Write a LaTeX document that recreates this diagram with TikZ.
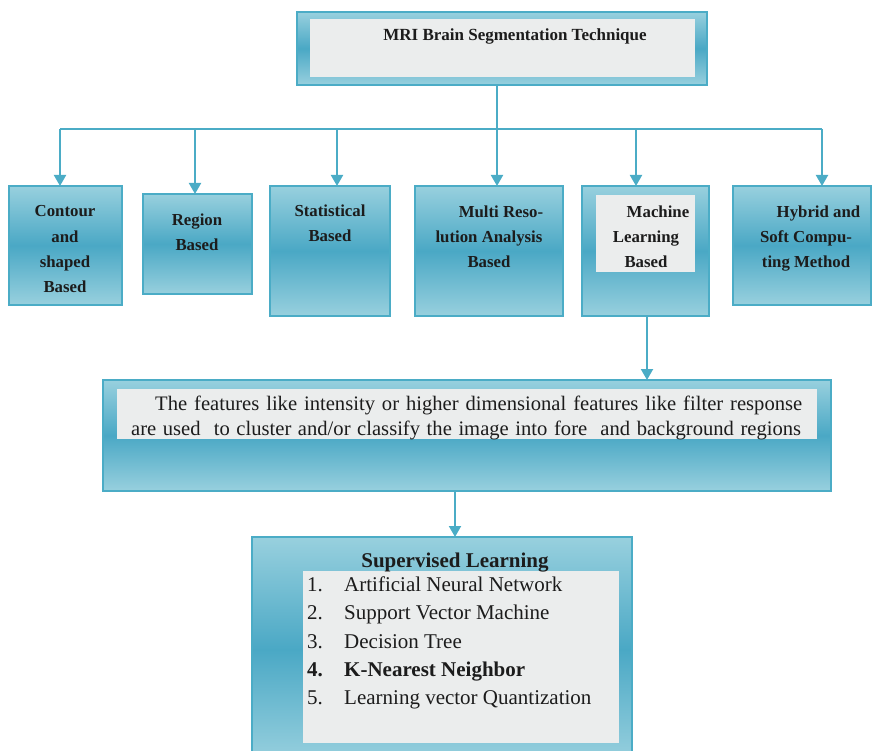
\documentclass[tikz,border=0pt]{standalone}
\usepackage{fontspec}
\setmainfont{Liberation Serif}
\usetikzlibrary{arrows.meta}
\definecolor{aquaedge}{RGB}{75,172,198}
\definecolor{aqualight}{RGB}{152,208,222}
\definecolor{aquadark}{RGB}{74,168,197}
\definecolor{panelgray}{RGB}{235,237,237}
\definecolor{inkcol}{RGB}{28,28,28}
\begin{document}
\begin{tikzpicture}[x=1pt,y=-1pt,
  panel/.style={draw=aquaedge, line width=2pt, top color=aqualight,
    bottom color=aqualight, middle color=aquadark, anchor=north west,
    inner sep=0pt, outer sep=0pt},
  graybox/.style={fill=panelgray, draw=none, anchor=north west,
    inner sep=0pt, outer sep=0pt},
  link/.style={draw=aquaedge, line width=2pt},
  arr/.style={link, -{Triangle[length=11pt,width=12pt]}},
  boxlbl/.style={font=\fontsize{16.8}{25.4}\selectfont\bfseries,
    text=inkcol, align=center, inner sep=0pt, anchor=base},
  bodytxt/.style={font=\fontsize{20.6}{25}\selectfont, text=inkcol,
    inner sep=0pt, anchor=base west},
  listtxt/.style={font=\fontsize{21}{28}\selectfont, text=inkcol,
    inner sep=0pt, anchor=base west},
]
\useasboundingbox (0,0) rectangle (873,751);

% title box
\node[panel, minimum width=410pt, minimum height=73pt] (top) at (297,12) {};
\node[graybox, minimum width=385pt, minimum height=58pt] (topin) at (310,19) {};
\node[boxlbl, font=\fontsize{17}{25.4}\selectfont\bfseries] (toptxt) at (515,41) {MRI Brain Segmentation Technique};

% technique boxes
\node[panel, minimum width=113pt, minimum height=119pt] (contour) at (9,186) {};
\node[panel, minimum width=109pt, minimum height=100pt] (region) at (143,194) {};
\node[panel, minimum width=120pt, minimum height=130pt] (stat) at (270,186) {};
\node[panel, minimum width=148pt, minimum height=130pt] (multi) at (415,186) {};
\node[panel, minimum width=127pt, minimum height=130pt] (machine) at (582,186) {};
\node[graybox, minimum width=99pt, minimum height=77pt] (machinein) at (596,195) {};
\node[panel, minimum width=138pt, minimum height=119pt] (hybrid) at (733,186) {};

% labels, placed by the baseline of their last line
\node[boxlbl] (contourtxt) at (65,293) {Contour\\and\\shaped\\Based};
\node[boxlbl] (regiontxt) at (197,251) {Region\\Based};
\node[boxlbl] (stattxt) at (330,242) {Statistical\\Based};
\node[boxlbl] (multitxt) at (489,268) {\hspace*{24pt}Multi Reso-\\lution Analysis\\Based};
\node[boxlbl] (machinetxt) at (646,268) {\hspace*{24pt}Machine\\Learning\\Based};
\node[boxlbl] (hybridtxt) at (806,268) {\hspace*{25pt}Hybrid and\\Soft Compu-\\ting Method};

% description box
\node[panel, minimum width=728pt, minimum height=111pt] (desc) at (103,380) {};
\node[graybox, minimum width=700pt, minimum height=50pt] (descin) at (117,389) {};
\node[bodytxt] (descl1) at (155,410) {\makebox[647pt][s]{The features like intensity or higher dimensional features like filter response}};
\node[bodytxt] (descl2) at (131,435) {\makebox[670pt][s]{are used\ \ to cluster and/or classify the image into fore\ \ and background regions}};

% supervised learning box
\node[panel, minimum width=380pt, minimum height=225pt] (super) at (252,537) {};
\node[graybox, minimum width=316pt, minimum height=172pt] (superin) at (303,571) {};
\node[listtxt, anchor=base, font=\fontsize{21}{28}\selectfont\bfseries] (supertitle) at (455,567) {Supervised Learning};
\node[listtxt] (n1) at (307,591) {1.};
\node[listtxt] (i1) at (344,591) {Artificial Neural Network};
\node[listtxt] (n2) at (307,619) {2.};
\node[listtxt] (i2) at (344,619) {Support Vector Machine};
\node[listtxt] (n3) at (307,648) {3.};
\node[listtxt] (i3) at (344,648) {Decision Tree};
\node[listtxt, font=\fontsize{21}{28}\selectfont\bfseries] (n4) at (307,676) {4.};
\node[listtxt, font=\fontsize{21}{28}\selectfont\bfseries] (i4) at (344,676) {K-Nearest Neighbor};
\node[listtxt] (n5) at (307,704) {5.};
\node[listtxt] (i5) at (344,704) {Learning vector Quantization};

% connectors
\coordinate (trunk) at (497,85);
\coordinate (barL) at (60,129);
\coordinate (barR) at (822,129);
\coordinate (d1) at (60,129);
\coordinate (d2) at (195,129);
\coordinate (d3) at (337,129);
\coordinate (d5) at (636,129);
\coordinate (d6) at (822,129);
\coordinate (mdrop) at (647,316);
\coordinate (sdrop) at (455,491);

\draw[link] (barL) -- (barR);
\draw[arr] (trunk) -- (trunk |- multi.north);
\draw[arr] (d1) -- (d1 |- contour.north);
\draw[arr] (d2) -- (d2 |- region.north);
\draw[arr] (d3) -- (d3 |- stat.north);
\draw[arr] (d5) -- (d5 |- machine.north);
\draw[arr] (d6) -- (d6 |- hybrid.north);
\draw[arr] (mdrop) -- (mdrop |- desc.north);
\draw[arr] (sdrop) -- (sdrop |- super.north);
\end{tikzpicture}
\end{document}
